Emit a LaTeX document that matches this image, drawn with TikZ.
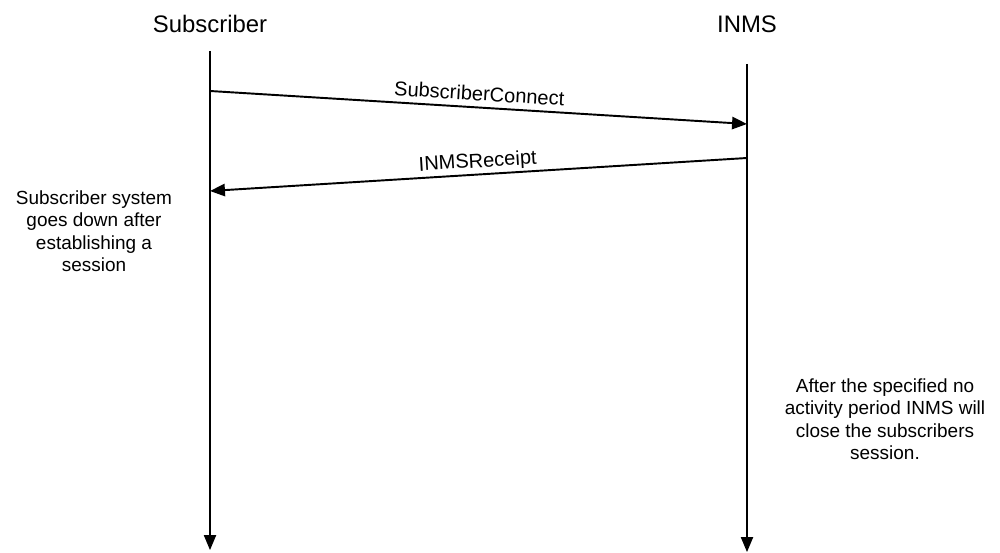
\documentclass[tikz,border=0pt]{standalone}
\usepackage{fontspec}
\setmainfont{Liberation Sans}
\usetikzlibrary{arrows.meta}
\tikzset{
  lifeline/.style={line width=0.6pt,-{Triangle[length=8.5pt,width=7pt]}},
  msg/.style={line width=1.1pt,-{Triangle[length=8.5pt,width=7pt]}},
  actor/.style={font=\fontsize{13.6}{16}\selectfont},
  msglabel/.style={font=\fontsize{11.4}{13}\selectfont,sloped,anchor=base,yshift=4pt},
  note/.style={font=\fontsize{10.8}{12.8}\selectfont,align=center}
}
\begin{document}
\begin{tikzpicture}[x=0.02cm,y=-0.02cm]
\useasboundingbox (0,0) rectangle (1000,553);

% Teilnehmer
\node[actor] (subscriber) at (210,24) {Subscriber};
\node[actor] (inms) at (747,24) {INMS};

\coordinate (subtop) at (210,51);
\coordinate (subend) at (210,550);
\coordinate (inmstop) at (747,64);
\coordinate (inmsend) at (747,552);

\draw[lifeline] (subtop) -- (subend);
\draw[lifeline] (inmstop) -- (inmsend);

% Nachrichten
\coordinate (connfrom) at (210,91);
\coordinate (connto) at (747,124);
\coordinate (rcptfrom) at (747,158);
\coordinate (rcptto) at (210,191);

\draw[msg] (connfrom) -- node[msglabel] {SubscriberConnect} (connto);
\draw[msg] (rcptfrom) -- node[msglabel] {INMSReceipt} (rcptto);

% Bemerkungen
\node[note] (subdown) at (94,231) {Subscriber system\\goes down after\\establishing a\\session};
\node[note] (timeout) at (885,419) {After the specified no\\activity period INMS will\\close the subscribers\\session.};

\end{tikzpicture}
\end{document}
